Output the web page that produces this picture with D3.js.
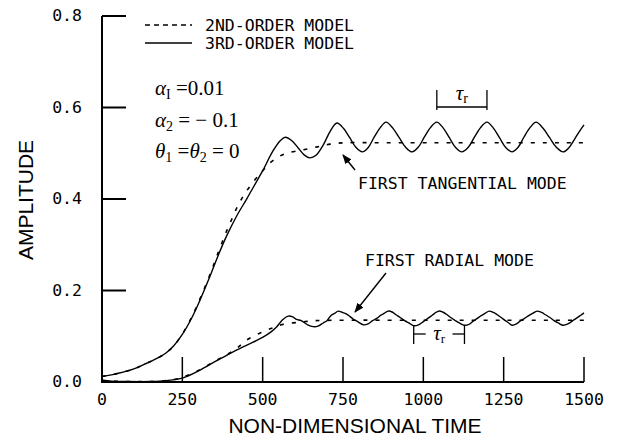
<!DOCTYPE html>
<html>
<head>
<meta charset="utf-8">
<script src="https://cdn.jsdelivr.net/npm/d3@7"></script>
<style>
  html, body { margin: 0; padding: 0; background: #fff; }
  svg { display: block; }
</style>
</head>
<body>
<svg id="chart" width="617" height="439"></svg>
<script>
// ---------------- DATA ----------------
const xTicks = [250, 500, 750, 1000, 1250, 1500];
const xTickLabels = ["0", "250", "500", "750", "1000", "1250", "1500"];
const xLabelValues = [0, 250, 500, 750, 1000, 1250, 1500];
const yTicks = [0.2, 0.4, 0.6, 0.8];
const yTickLabels = ["0.0", "0.2", "0.4", "0.6", "0.8"];
const yLabelValues = [0, 0.2, 0.4, 0.6, 0.8];

const legendLabels = ["2ND-ORDER MODEL", "3RD-ORDER MODEL"];

// First tangential mode, 3rd-order model (solid)
const tangential3 = [
  [0,0.012],[50,0.019],[97,0.028],[139,0.041],[180,0.055],[200,0.064],[222,0.078],[250,0.104],
  [280,0.141],[305,0.179],[336,0.231],[360,0.274],[389,0.321],[420,0.364],[451,0.401],
  [480,0.437],[501,0.463],[532,0.505],[554,0.527],[570,0.535],[590,0.528],[610,0.512],
  [630,0.496],[647,0.49],[665,0.495],[690,0.52],[710,0.548],[731,0.566],[752,0.554],
  [771,0.534],[790,0.513],[810,0.503],[828,0.512],[847,0.535],[866,0.556],[884,0.568],
  [905,0.555],[925,0.534],[945,0.513],[965,0.503],[984,0.513],[1003,0.535],[1022,0.556],
  [1042,0.568],[1062,0.555],[1081,0.534],[1100,0.513],[1120,0.503],[1140,0.513],
  [1159,0.535],[1178,0.556],[1198,0.568],[1218,0.555],[1237,0.534],[1256,0.513],
  [1276,0.503],[1295,0.513],[1313,0.535],[1332,0.556],[1351,0.568],[1372,0.555],
  [1393,0.534],[1414,0.513],[1435,0.503],[1453,0.512],[1470,0.53],[1486,0.548],[1500,0.562]
];
// First tangential mode, 2nd-order model (dashed)
const tangential2 = [
  [0,0.012],[50,0.019],[97,0.028],[139,0.041],[180,0.055],[200,0.064],[222,0.078],[250,0.105],
  [280,0.143],[305,0.182],[336,0.235],[360,0.28],[389,0.332],[404,0.356],[420,0.381],
  [440,0.407],[466,0.433],[498,0.46],[523,0.479],[554,0.494],[579,0.501],[623,0.507],
  [670,0.514],[710,0.52],[760,0.523],[850,0.523],[1000,0.523],[1200,0.523],[1500,0.523]
];
// First radial mode, 3rd-order model (solid)
const radial3 = [
  [0,0.004],[30,0.002],[80,0.001],[150,0.001],[200,0.003],[252,0.009],[305,0.026],
  [350,0.044],[389,0.059],[439,0.077],[470,0.087],[501,0.098],[525,0.109],[544,0.121],
  [562,0.136],[579,0.144],[592,0.143],[605,0.137],[620,0.134],[640,0.125],[657,0.121],
  [672,0.122],[688,0.129],[700,0.134],[712,0.145],[724,0.150],[735,0.155],[748,0.152],
  [760,0.149],[772,0.143],[785,0.136],[798,0.131],[813,0.125],[828,0.127],[842,0.134],
  [855,0.139],[868,0.146],[878,0.150],[890,0.155],[903,0.153],[915,0.147],[928,0.141],
  [942,0.134],[955,0.129],[970,0.123],[985,0.125],[998,0.131],[1012,0.138],[1024,0.144],
  [1035,0.150],[1048,0.155],[1060,0.153],[1072,0.148],[1085,0.141],[1098,0.135],
  [1112,0.129],[1128,0.124],[1142,0.126],[1155,0.133],[1168,0.139],[1180,0.145],
  [1192,0.150],[1205,0.155],[1218,0.152],[1230,0.147],[1242,0.141],[1255,0.134],
  [1266,0.129],[1276,0.124],[1290,0.127],[1303,0.134],[1315,0.139],[1328,0.145],
  [1340,0.150],[1354,0.155],[1368,0.152],[1380,0.147],[1394,0.141],[1407,0.134],
  [1420,0.129],[1435,0.124],[1450,0.127],[1465,0.134],[1478,0.140],[1490,0.146],[1500,0.151]
];
// First radial mode, 2nd-order model (dashed)
const radial2 = [
  [0,0.003],[80,0.001],[150,0.001],[200,0.003],[250,0.01],[305,0.027],[350,0.045],
  [389,0.06],[420,0.074],[451,0.092],[492,0.107],[530,0.118],[563,0.126],[620,0.131],
  [663,0.134],[750,0.135],[1000,0.135],[1250,0.135],[1500,0.135]
];

// Period markers (times of successive peaks / troughs)
const tangentialPeriod = [1042, 1198];
const radialPeriod = [970, 1128];

// ---------------- CHART ----------------
const svg = d3.select("#chart");
const x = d3.scaleLinear().domain([0, 1500]).range([102, 584]);
const y = d3.scaleLinear().domain([0, 0.8]).range([382, 16]);

const mono = "'DejaVu Sans Mono', monospace";
const sans = "'Liberation Sans', Arial, sans-serif";
const serif = "'Liberation Serif', 'DejaVu Serif', serif";

// axis lines
svg.append("line").attr("x1", x(0)).attr("x2", x(0)).attr("y1", y(0.8)).attr("y2", y(0))
  .attr("stroke", "#000").attr("stroke-width", 2);
svg.append("line").attr("x1", x(0) - 1).attr("x2", x(1500)).attr("y1", y(0)).attr("y2", y(0))
  .attr("stroke", "#000").attr("stroke-width", 2);

// y ticks (inside)
svg.selectAll("line.ytick").data(yTicks).enter().append("line")
  .attr("x1", x(0)).attr("x2", x(0) + 24)
  .attr("y1", d => y(d)).attr("y2", d => y(d))
  .attr("stroke", "#000").attr("stroke-width", 2);
// x ticks (inside)
svg.selectAll("line.xtick").data(xTicks).enter().append("line")
  .attr("x1", d => x(d)).attr("x2", d => x(d))
  .attr("y1", y(0)).attr("y2", y(0) - 25)
  .attr("stroke", "#000").attr("stroke-width", 1.5);

// tick labels
svg.selectAll("text.ylab").data(yLabelValues).enter().append("text")
  .attr("x", 82).attr("y", d => y(d) + 5)
  .attr("text-anchor", "end")
  .attr("font-family", mono).attr("font-size", 16.5)
  .text((d, i) => yTickLabels[i]);
svg.selectAll("text.xlab").data(xLabelValues).enter().append("text")
  .attr("x", d => x(d)).attr("y", 405)
  .attr("text-anchor", "middle")
  .attr("font-family", mono).attr("font-size", 16.5)
  .text((d, i) => xTickLabels[i]);

// axis titles
svg.append("text").attr("x", 355).attr("y", 433)
  .attr("text-anchor", "middle").attr("font-family", sans).attr("font-size", 21)
  .text("NON-DIMENSIONAL TIME");
svg.append("text").attr("transform", "translate(33,200) rotate(-90)")
  .attr("text-anchor", "middle").attr("font-family", sans).attr("font-size", 21)
  .text("AMPLITUDE");

// curves
const line = d3.line().x(d => x(d[0])).y(d => y(d[1])).curve(d3.curveCatmullRom.alpha(0.5));
[[tangential2, true], [radial2, true], [tangential3, false], [radial3, false]].forEach(([data, dashed]) => {
  svg.append("path").datum(data).attr("d", line)
    .attr("fill", "none").attr("stroke", "#000")
    .attr("stroke-width", dashed ? 1.6 : 1.4)
    .attr("stroke-dasharray", dashed ? "4,8" : null);
});

// legend
const legY = [25, 43];
legendLabels.forEach((lab, i) => {
  svg.append("line").attr("x1", 145).attr("x2", 192).attr("y1", legY[i]).attr("y2", legY[i])
    .attr("stroke", "#000").attr("stroke-width", 1.5)
    .attr("stroke-dasharray", i === 0 ? "5,4" : null);
  svg.append("text").attr("x", 205).attr("y", legY[i] + 6)
    .attr("font-family", mono).attr("font-size", 16.5).text(lab);
});

// parameters
function param(yy, parts) {
  const t = svg.append("text").attr("x", 155).attr("y", yy)
    .attr("font-family", serif).attr("font-size", 21);
  parts.forEach(p => {
    const s = t.append("tspan").text(p.t);
    if (p.i) s.attr("font-style", "italic");
    if (p.sub) s.attr("font-size", 14).attr("dy", 4);
    if (p.up) s.attr("dy", -4);
  });
}
param(95, [{t: "α", i: true}, {t: "I", sub: true}, {t: "  =0.01", up: true}]);
param(127, [{t: "α", i: true}, {t: "2", sub: true}, {t: " = − 0.1", up: true}]);
param(158, [{t: "θ", i: true}, {t: "1", sub: true}, {t: " =", up: true}, {t: "θ", i: true}, {t: "2", sub: true}, {t: " = 0", up: true}]);

// annotations
svg.append("defs").append("marker").attr("id", "ah")
  .attr("viewBox", "0 0 10 10").attr("refX", 9).attr("refY", 5)
  .attr("markerWidth", 7).attr("markerHeight", 7).attr("orient", "auto")
  .append("path").attr("d", "M0,1 L10,5 L0,9 Z").attr("fill", "#000");

svg.append("text").attr("x", 358).attr("y", 189)
  .attr("font-family", mono).attr("font-size", 16.5).text("FIRST TANGENTIAL MODE");
svg.append("line").attr("x1", 355).attr("y1", 170).attr("x2", 343).attr("y2", 155)
  .attr("stroke", "#000").attr("stroke-width", 1.4).attr("marker-end", "url(#ah)");

svg.append("text").attr("x", 365).attr("y", 266)
  .attr("font-family", mono).attr("font-size", 16.5).text("FIRST RADIAL MODE");
svg.append("line").attr("x1", 386).attr("y1", 273).attr("x2", 355).attr("y2", 312)
  .attr("stroke", "#000").attr("stroke-width", 1.4).attr("marker-end", "url(#ah)");

// tangential period bracket
const tx0 = x(tangentialPeriod[0]), tx1 = x(tangentialPeriod[1]);
[tx0, tx1].forEach(xx => svg.append("line").attr("x1", xx).attr("x2", xx).attr("y1", 90).attr("y2", 110)
  .attr("stroke", "#000").attr("stroke-width", 1.3));
svg.append("line").attr("x1", tx0).attr("x2", tx1).attr("y1", 107).attr("y2", 107)
  .attr("stroke", "#000").attr("stroke-width", 1.5);
const tauT = svg.append("text").attr("x", (tx0 + tx1) / 2).attr("y", 100)
  .attr("text-anchor", "middle").attr("font-family", serif).attr("font-size", 21);
tauT.append("tspan").attr("font-style", "italic").text("τ");
tauT.append("tspan").attr("font-size", 14).attr("dy", 3).text("r");

// radial period bracket
const rx0 = x(radialPeriod[0]), rx1 = x(radialPeriod[1]);
[rx0, rx1].forEach(xx => svg.append("line").attr("x1", xx).attr("x2", xx).attr("y1", 325).attr("y2", 344)
  .attr("stroke", "#000").attr("stroke-width", 1.3));
svg.append("line").attr("x1", rx0).attr("x2", rx0 + 12).attr("y1", 334).attr("y2", 334)
  .attr("stroke", "#000").attr("stroke-width", 1.3);
svg.append("line").attr("x1", rx1 - 12).attr("x2", rx1).attr("y1", 334).attr("y2", 334)
  .attr("stroke", "#000").attr("stroke-width", 1.3);
const tauR = svg.append("text").attr("x", (rx0 + rx1) / 2).attr("y", 340)
  .attr("text-anchor", "middle").attr("font-family", serif).attr("font-size", 21);
tauR.append("tspan").attr("font-style", "italic").text("τ");
tauR.append("tspan").attr("font-size", 13).attr("dy", 3).text("r");
</script>
</body>
</html>
